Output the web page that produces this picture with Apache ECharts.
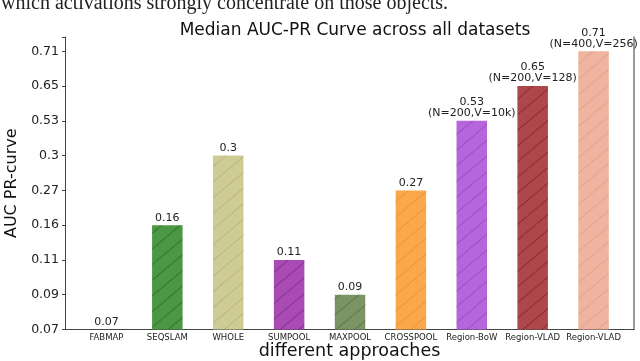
<!DOCTYPE html>
<html><head><meta charset="utf-8">
<script src="https://cdn.jsdelivr.net/npm/echarts@6/dist/echarts.min.js"></script>
<style>html,body{margin:0;padding:0;background:#fff}#c{width:640px;height:361px}</style>
</head><body><div id="c"></div>
<script>
const categories = ['FABMAP','SEQSLAM','WHOLE','SUMPOOL','MAXPOOL','CROSSPOOL','Region-BoW','Region-VLAD','Region-VLAD'];
const values = [0.07, 0.16, 0.3, 0.11, 0.09, 0.27, 0.53, 0.65, 0.71];
const notes = ['', '', '', '', '', '', '(N=200,V=10k)', '(N=200,V=128)', '(N=400,V=256)'];
const yTicks = [0.07, 0.09, 0.11, 0.16, 0.27, 0.3, 0.53, 0.65, 0.71];
const colors = ['#4b8fc4','#4a9744','#cfcb95','#aa4ab4','#7c9364','#fba84a','#b566dc','#ad474b','#efb39f'];
const hatch = ['rgba(0,0,0,0.2)','rgba(0,40,0,0.3)','rgba(120,110,60,0.22)','rgba(60,0,70,0.3)','rgba(40,60,20,0.3)','rgba(180,100,20,0.25)','rgba(90,20,130,0.28)','rgba(70,0,0,0.35)','rgba(190,110,90,0.25)'];

const yMax = 8.41;
const chart = echarts.init(document.getElementById('c'), null, {renderer:'canvas'});
const barData = values.map((v,i)=>({
  value: yTicks.indexOf(v),
  itemStyle: {
    color: colors[i],
    decal: {symbol:'rect', symbolSize:1, dashArrayX:[1,0], dashArrayY:[1,11], rotation: -Math.PI/4.5, color: hatch[i]}
  }
}));
chart.setOption({
  animation: false,
  aria: {enabled:false},
  title: {text:'Median AUC-PR Curve across all datasets', left: 350, top: 17, textAlign:'center',
    textStyle:{fontFamily:'DejaVu Sans', fontSize:17, fontWeight:'normal', color:'#111'}},
  graphic: [{type:'text', left: 1, top: -6, style:{text:'which activations strongly concentrate on those objects.', font:'20px "Liberation Serif"', fill:'#222'}}],
  grid: [
    {left:65, right:6, top:37, bottom:31.5, outerBoundsMode:'none', containLabel:false},
    {left:76, right:16, top:37, bottom:31.5, outerBoundsMode:'none', containLabel:false}
  ],
  xAxis: [
    {gridIndex:0, type:'value', min:0, max:1, axisLine:{show:true, onZero:false, lineStyle:{color:'#444', width:1}},
      axisTick:{show:false}, axisLabel:{show:false}, splitLine:{show:false},
      name:'different approaches', nameLocation:'middle', nameGap:13,
      nameTextStyle:{fontFamily:'DejaVu Sans', fontSize:17.5, color:'#111'}},
    {gridIndex:1, type:'category', data:categories, axisLine:{show:false}, axisTick:{show:false},
      axisLabel:{interval:0, fontFamily:'DejaVu Sans', fontSize:8.5, color:'#222', margin:4}}
  ],
  yAxis: [
    {gridIndex:0, type:'value', min:0, max:yMax, interval:1,
      axisLine:{show:true, lineStyle:{color:'#444', width:1}},
      axisTick:{show:true, length:3, lineStyle:{color:'#444'}},
      axisLabel:{fontFamily:'DejaVu Sans', fontSize:12.5, color:'#222', margin:6,
        formatter: v => (Number.isInteger(v) && v < yTicks.length) ? String(yTicks[v]) : ''},
      splitLine:{show:false},
      name:'AUC PR-curve', nameLocation:'middle', nameGap:42,
      nameTextStyle:{fontFamily:'DejaVu Sans', fontSize:16, color:'#111'}},
    {gridIndex:0, type:'value', position:'right', min:0, max:yMax,
      axisLine:{show:true, lineStyle:{color:'#777', width:1.5}}, axisTick:{show:false}, axisLabel:{show:false}, splitLine:{show:false}},
    {gridIndex:1, type:'value', min:0, max:yMax, show:false}
  ],
  series: [{
    type:'bar', xAxisIndex:1, yAxisIndex:2, barWidth:30.5, data:barData,
    label:{show:true, position:'top', distance:2, fontFamily:'DejaVu Sans', fontSize:11, color:'#222', lineHeight:11, align:'center',
      formatter: p => notes[p.dataIndex] ? values[p.dataIndex] + '\n' + notes[p.dataIndex] : String(values[p.dataIndex])}
  }]
});
</script></body></html>
